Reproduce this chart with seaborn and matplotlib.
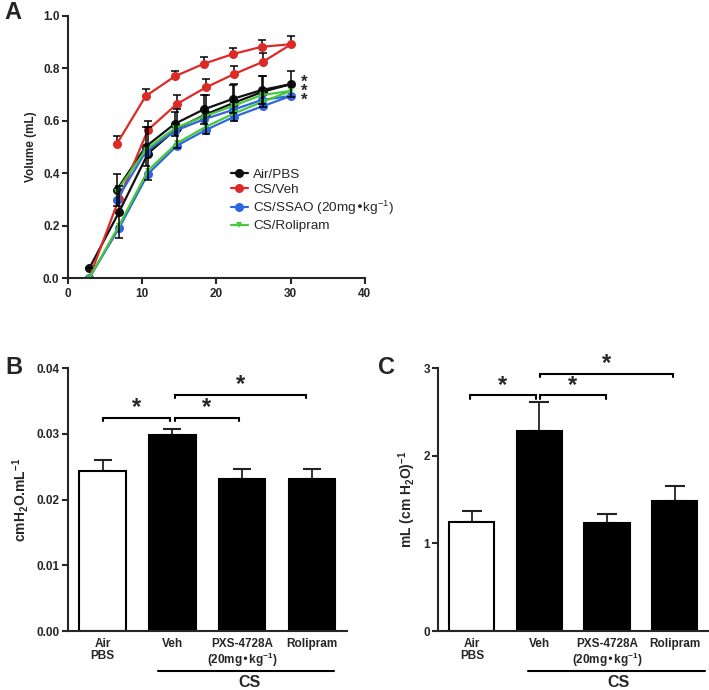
import numpy as np
import pandas as pd
import matplotlib
matplotlib.use('Agg')
import matplotlib.pyplot as plt
import seaborn as sns

# ---- Panel A: pressure-volume loops ----
groups = ['Air/PBS', 'CS/Veh', 'CS/SSAO (20mg•kg$^{-1}$)', 'CS/Rolipram']
group_colors = ['#111111', '#dc2b27', '#2f66e0', '#45c83c']
group_markers = ['o', 'o', 'o', 'v']

pressure_infl = [2.9, 6.9, 10.8, 14.7, 18.6, 22.4, 26.3, 30.1]
pressure_defl = [26.1, 22.2, 18.3, 14.4, 10.5, 6.6]

air_infl = [0.037, 0.251, 0.475, 0.571, 0.624, 0.669, 0.711, 0.740]
air_defl = [0.717, 0.683, 0.643, 0.588, 0.501, 0.336]
veh_infl = [0.0, 0.302, 0.565, 0.664, 0.727, 0.778, 0.825, 0.892]
veh_defl = [0.882, 0.854, 0.817, 0.769, 0.694, 0.511]
ssao_infl = [0.0, 0.190, 0.397, 0.505, 0.565, 0.615, 0.656, 0.695]
ssao_defl = [0.679, 0.641, 0.605, 0.561, 0.482, 0.298]
roli_infl = [0.0, 0.200, 0.410, 0.514, 0.577, 0.628, 0.673, 0.714]
roli_defl = [0.698, 0.656, 0.616, 0.571, 0.489, 0.330]

# SEM (drawn for Air/PBS both ways, CS/Veh upward only)
air_err_infl = [0.0, 0.10, 0.10, 0.075, 0.075, 0.07, 0.06, 0.05]
air_err_defl = [0.055, 0.055, 0.055, 0.045, 0.075, 0.06]
veh_err_infl = [0.0, 0.03, 0.035, 0.034, 0.032, 0.032, 0.034, 0.03]
veh_err_defl = [0.025, 0.022, 0.025, 0.022, 0.026, 0.032]

# ---- Panels B and C: bars ----
bar_labels = ['Air\nPBS', 'Veh', 'PXS-4728A\n(20mg•kg$^{-1}$)', 'Rolipram']
bar_colors = ['white', 'black', 'black', 'black']
elastance_mean = [0.0243, 0.0298, 0.0232, 0.0232]
elastance_sem = [0.0018, 0.0009, 0.0015, 0.0015]
compliance_mean = [1.25, 2.28, 1.23, 1.48]
compliance_sem = [0.12, 0.34, 0.11, 0.18]

sns.set_style('ticks')
plt.rcParams['font.family'] = ['Liberation Sans', 'DejaVu Sans']
plt.rcParams['mathtext.default'] = 'regular'
plt.rcParams['axes.linewidth'] = 1.5

fig = plt.figure(figsize=(7.09, 6.90), dpi=100)
axA = fig.add_axes([0.0955, 0.597, 0.419, 0.380])
axB = fig.add_axes([0.0955, 0.0855, 0.3935, 0.3807])
axC = fig.add_axes([0.618, 0.0855, 0.381, 0.3807])

# long-form table for the loops
rows = []
loop_data = [(air_infl, air_defl), (veh_infl, veh_defl),
             (ssao_infl, ssao_defl), (roli_infl, roli_defl)]
for g, (vi, vd) in zip(groups, loop_data):
    for p, v in zip(pressure_infl + pressure_defl, vi + vd):
        rows.append({'group': g, 'pressure': p, 'volume': v})
df = pd.DataFrame(rows)

sns.lineplot(data=df, x='pressure', y='volume', hue='group', style='group',
             hue_order=groups, style_order=groups,
             palette=dict(zip(groups, group_colors)),
             markers=dict(zip(groups, group_markers)), dashes=False,
             estimator=None, sort=False, linewidth=1.6, markersize=6.5,
             markeredgewidth=0, ax=axA)
# the triangle markers are drawn smaller in the original
for ln in axA.lines:
    if ln.get_marker() == 'v':
        ln.set_markersize(4.5)

px = pressure_infl + pressure_defl
axA.errorbar(px, veh_infl + veh_defl,
             yerr=[np.zeros(len(px)), veh_err_infl + veh_err_defl],
             fmt='none', ecolor='black', elinewidth=1.1, capsize=3, capthick=1.1, zorder=1)
axA.errorbar(px, air_infl + air_defl, yerr=air_err_infl + air_err_defl,
             fmt='none', ecolor='black', elinewidth=1.1, capsize=3, capthick=1.1, zorder=5)

axA.set_xlim(0, 40)
axA.set_ylim(0, 1.0)
axA.set_xticks([0, 10, 20, 30, 40])
axA.set_yticks(np.arange(0, 1.01, 0.2))
axA.set_yticklabels([f'{v:.1f}' for v in np.arange(0, 1.01, 0.2)])
axA.set_xlabel('')
axA.set_ylabel('Volume (mL)', fontsize=8.5, fontweight='bold')
axA.text(31.8, 0.713, '*\n*\n*', fontsize=12, fontweight='bold', ha='center', va='center', linespacing=0.5)
sns.move_legend(axA, 'upper left', bbox_to_anchor=(0.53, 0.44), frameon=False, title=None,
                fontsize=9.7, handlelength=1.3, handletextpad=0.4, labelspacing=0.22, borderaxespad=0)
for h in axA.get_legend().legend_handles:
    if h.get_marker() == 'v':
        h.set_markersize(4.5)

# bar panels
def bar_panel(ax, means, sems, ylim, yticks, fmt, ylabel, brackets, capsize):
    sns.barplot(x=bar_labels, y=means, hue=bar_labels, palette=bar_colors,
                edgecolor='black', linewidth=1.5, width=0.667, legend=False, ax=ax)
    ax.errorbar(range(len(means)), means, yerr=[np.zeros(len(means)), sems], fmt='none',
                ecolor='#222222', elinewidth=1.3, capsize=capsize, capthick=1.5, zorder=0)
    ax.set_xlim(-0.5, 3.5)
    ax.set_ylim(*ylim)
    ax.set_yticks(yticks)
    ax.set_yticklabels([fmt.format(v) for v in yticks])
    ax.set_ylabel(ylabel, fontsize=10, fontweight='bold')
    ax.tick_params(axis='x', length=0, pad=5)
    for lab in ax.get_xticklabels():
        lab.set_linespacing(1.05)
    span = ylim[1] - ylim[0]
    for x1, x2, y in brackets:
        tick = 0.012 * span
        ax.plot([x1, x1, x2, x2], [y - tick, y, y, y - tick], color='black', lw=1.5,
                clip_on=False, solid_joinstyle='miter')
        ax.text((x1 + x2) / 2, y - 0.004 * span, '*', ha='center', va='bottom',
                fontsize=17, fontweight='bold')
    sns.despine(ax=ax)

bar_panel(axB, elastance_mean, elastance_sem, (0, 0.04), [0, 0.01, 0.02, 0.03, 0.04], '{:.2f}',
          'cmH$_2$O.mL$^{-1}$',
          [(0.01, 0.97, 0.0325), (1.04, 1.95, 0.0325), (1.04, 2.91, 0.0359)], 6.5)
bar_panel(axC, compliance_mean, compliance_sem, (0, 3), [0, 1, 2, 3], '{:d}',
          'mL (cm H$_2$O)$^{-1}$',
          [(-0.03, 0.95, 2.69), (1.01, 1.98, 2.69), (1.01, 2.98, 2.94)], 7.5)

for ax, x1, x2, xc in [(axB, 0.8, 3.32, 2.1), (axC, 0.83, 3.45, 2.17)]:
    trans = ax.get_xaxis_transform()
    ax.plot([x1, x2], [-0.152, -0.152], color='black', lw=1.5, transform=trans, clip_on=False)
    ax.text(xc, -0.195, 'CS', transform=trans, ha='center', va='center', fontsize=11.5, fontweight='bold')

for ax in [axA, axB, axC]:
    ax.tick_params(axis='both', labelsize=8.5, width=1.5, direction='out')
    ax.tick_params(axis='y', length=4, pad=2)
    for lab in ax.get_xticklabels() + ax.get_yticklabels():
        lab.set_fontweight('bold')
sns.despine(ax=axA)
axA.tick_params(axis='x', length=4, pad=3)

fig.text(0.018, 0.982, 'A', fontsize=17, fontweight='bold', ha='center', va='center')
fig.text(0.020, 0.468, 'B', fontsize=17, fontweight='bold', ha='center', va='center')
fig.text(0.545, 0.468, 'C', fontsize=17, fontweight='bold', ha='center', va='center')

fig.savefig('out.png', dpi=100)
